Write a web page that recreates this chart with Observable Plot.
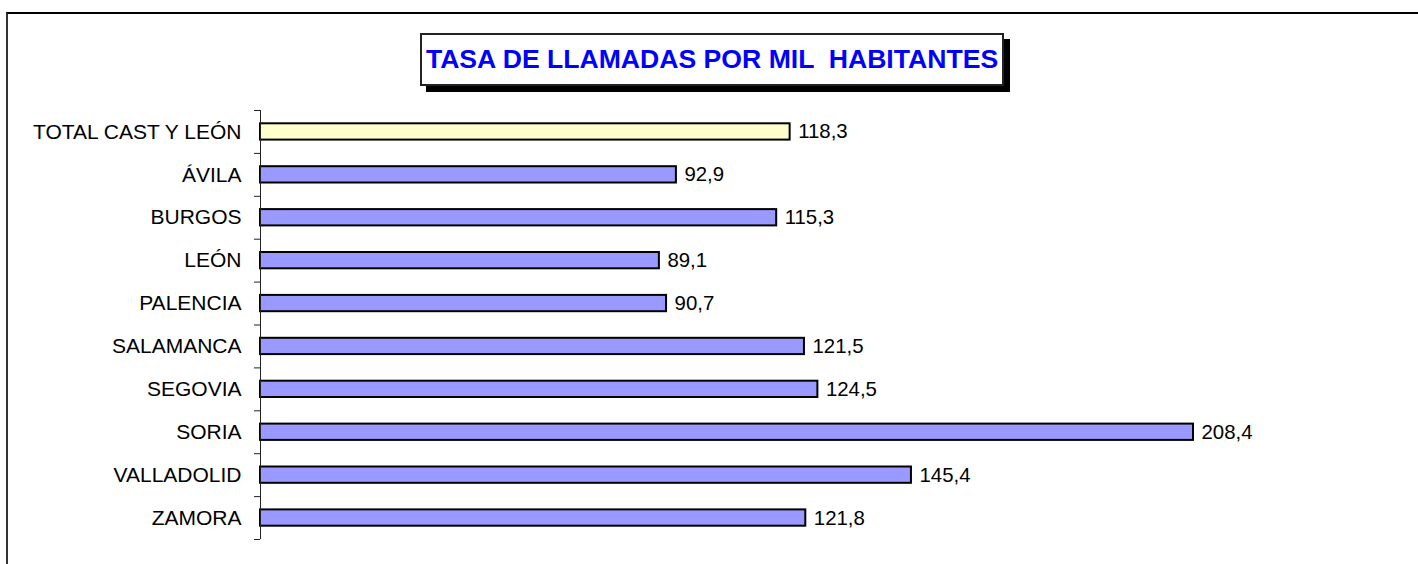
<!DOCTYPE html>
<html>
<head>
<meta charset="utf-8">
<script src="https://cdn.jsdelivr.net/npm/d3@7"></script>
<script src="https://cdn.jsdelivr.net/npm/@observablehq/plot@0.6"></script>
<style>
  html, body { margin: 0; padding: 0; background: #fff; }
  #wrap { position: relative; width: 1418px; height: 564px; overflow: hidden; font-family: "Liberation Sans", Arial, sans-serif; }
  #frame { position: absolute; left: 6px; top: 12px; width: 1500px; height: 700px; border-top: 2px solid #000; border-left: 2px solid #333; box-sizing: border-box; }
  #chart { position: absolute; left: 0; top: 0; }
  #title { position: absolute; left: 420px; top: 33px; width: 584px; height: 53px; box-sizing: border-box;
           border: 2px solid #222; background: #fff; box-shadow: 6px 6px 0 #000;
           color: #0000ff; font-weight: bold; font-size: 26.6px; white-space: pre;
           display: flex; align-items: center; justify-content: center; }
</style>
</head>
<body>
<div id="wrap">
  <div id="frame"></div>
  <div id="chart"></div>
  <div id="title">TASA DE LLAMADAS POR MIL  HABITANTES</div>
</div>
<script>
const categories = ["TOTAL CAST Y LEÓN", "ÁVILA", "BURGOS", "LEÓN", "PALENCIA", "SALAMANCA", "SEGOVIA", "SORIA", "VALLADOLID", "ZAMORA"];
const values = [118.3, 92.9, 115.3, 89.1, 90.7, 121.5, 124.5, 208.4, 145.4, 121.8];
const totalLabel = "TOTAL CAST Y LEÓN";

const data = categories.map((name, i) => ({name, value: values[i]}));

const W = 1418, H = 564;
const mTop = 110, mBottom = 25, mLeft = 260, mRight = 225;
const step = (H - mTop - mBottom) / categories.length;
const fmt = v => v.toFixed(1).replace(".", ",");

const chart = Plot.plot({
  width: W,
  height: H,
  marginTop: mTop,
  marginBottom: mBottom,
  marginLeft: mLeft,
  marginRight: mRight,
  style: {fontFamily: "'Liberation Sans', Arial, sans-serif", fontSize: "20px", background: "transparent", overflow: "visible", color: "#000"},
  x: {domain: [0, d3.max(values)], axis: null},
  y: {domain: categories, paddingInner: 0.62, paddingOuter: 0.31, round: false, label: null},
  marks: [
    Plot.barX(data, {
      y: "name", x: "value",
      fill: d => d.name === totalLabel ? "#ffffcc" : "#9999ff",
      stroke: "#000", strokeWidth: 2
    }),
    Plot.text(data, {
      y: "name", x: "value", text: d => fmt(d.value),
      textAnchor: "start", dx: 8, fontSize: 20.4, fill: "#000"
    }),
    Plot.ruleX([0], {stroke: "#222", strokeWidth: 1}),
    Plot.axisY({tickSize: 0, tickPadding: 19, fontSize: 21, fill: "#000", label: null}),
    Plot.axisY(categories, {tickSize: 6, tickFormat: () => "", dy: -step / 2, stroke: "#222", label: null}),
    Plot.axisY(categories.slice(-1), {tickSize: 6, tickFormat: () => "", dy: step / 2, stroke: "#222", label: null})
  ]
});
document.getElementById("chart").appendChild(chart);
</script>
</body>
</html>
